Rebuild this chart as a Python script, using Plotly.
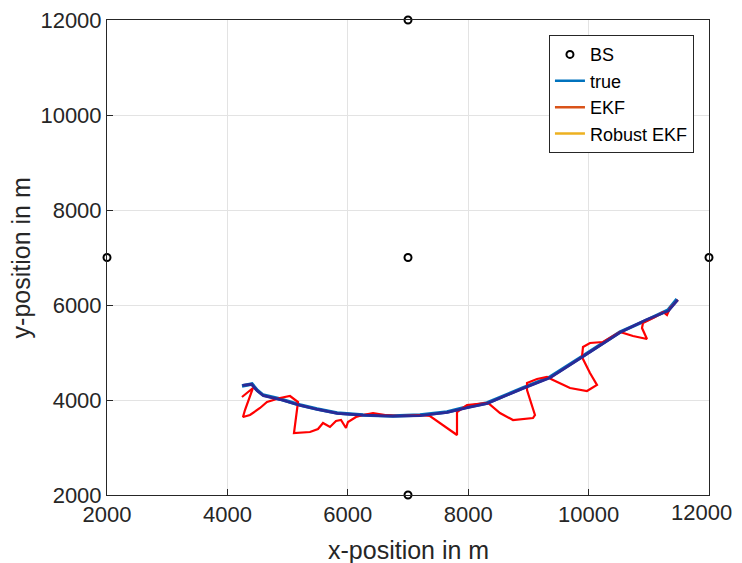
import plotly.graph_objects as go

# Base stations
bs_x = [7000, 2000, 7000, 12000, 7000]
bs_y = [12000, 7000, 7000, 7000, 2000]

# True trajectory
true_x = [4242, 4409, 4492, 4591, 4874, 5206, 5488, 5821, 6253, 6751, 7199, 7648, 7980,
          8312, 8910, 9359, 9907, 10522, 10970, 11319, 11468]
true_y = [4295, 4337, 4210, 4105, 4021, 3895, 3811, 3726, 3684, 3663, 3684, 3747, 3853,
          3937, 4253, 4484, 4926, 5432, 5684, 5895, 6126]

# EKF estimate
ekf_x = [4242, 4425, 4292, 4259, 4375, 4542, 4658, 4874, 5040, 5173, 5106, 5372, 5505,
         5588, 5704, 5804, 5887, 5970, 6003, 6136, 6253, 6419, 6618, 6867, 7199, 7365,
         7814, 7814, 7980, 8246, 8329, 8528, 8744, 9076, 9109, 8977, 8977, 9143, 9309,
         9409, 9691, 9973, 10139, 10023, 9890, 9907, 10023, 10239, 10521, 10737, 10970,
         10887, 10903, 11103, 11236, 11302, 11352, 11485]
ekf_y = [4063, 4253, 3789, 3642, 3684, 3832, 3958, 4042, 4084, 3958, 3305, 3326, 3389,
         3516, 3432, 3558, 3579, 3411, 3537, 3642, 3684, 3726, 3684, 3663, 3684, 3663,
         3263, 3747, 3895, 3937, 3937, 3726, 3579, 3621, 3684, 4211, 4358, 4442, 4484,
         4421, 4253, 4189, 4316, 4568, 4905, 5116, 5200, 5221, 5432, 5347, 5284,
         5516, 5621, 5747, 5853, 5789, 5937, 6105]

# Robust EKF estimate
rob_x = [4250, 4400, 4500, 4600, 4880, 5200, 5500, 5830, 6250, 6750, 7200, 7650, 7990,
         8320, 8900, 9360, 9900, 10520, 10960, 11330, 11480]
rob_y = [4310, 4330, 4190, 4090, 4010, 3890, 3800, 3720, 3680, 3660, 3670, 3740, 3840,
         3930, 4240, 4470, 4910, 5420, 5690, 5880, 6110]

xticks = [2000, 4000, 6000, 8000, 10000, 12000]
yticks = [2000, 4000, 6000, 8000, 10000, 12000]
xtick_text = [str(v) for v in xticks]
ytick_text = [str(v) for v in yticks]
x_title = "x-position in m"
y_title = "y-position in m"

FONT = "Liberation Sans, Arial, sans-serif"
TXT = "#262626"

fig = go.Figure()

fig.add_trace(go.Scatter(x=true_x, y=true_y, mode="lines", showlegend=False,
                         line=dict(color="#0072BD", width=3.5)))
fig.add_trace(go.Scatter(x=ekf_x, y=ekf_y, mode="lines", showlegend=False,
                         line=dict(color="#FF0000", width=2.2)))
fig.add_trace(go.Scatter(x=rob_x, y=rob_y, mode="lines", showlegend=False,
                         line=dict(color="#2A2A96", width=2.8)))
fig.add_trace(go.Scatter(x=bs_x, y=bs_y, mode="markers", name="BS", cliponaxis=False,
                         marker=dict(symbol="circle-open", size=7, color="black",
                                     line=dict(width=2, color="black"))))
# legend entries
fig.add_trace(go.Scatter(x=[None], y=[None], mode="lines", name="true",
                         line=dict(color="#0072BD", width=2.5)))
fig.add_trace(go.Scatter(x=[None], y=[None], mode="lines", name="EKF",
                         line=dict(color="#D95319", width=2.5)))
fig.add_trace(go.Scatter(x=[None], y=[None], mode="lines", name="Robust EKF",
                         line=dict(color="#EDB120", width=2.5)))

axis_common = dict(
    showline=True, mirror=True, linecolor=TXT, linewidth=1,
    ticks="inside", ticklen=6, tickcolor=TXT,
    showgrid=True, gridcolor="#E3E3E3", gridwidth=1, zeroline=False,
    automargin=False, ticklabeloverflow="allow",
    tickfont=dict(size=22, color=TXT, family=FONT),
)

# last x tick label drawn as annotation so it stays inside the page
fig.update_xaxes(range=[2000, 12000], tickvals=xticks,
                 ticktext=xtick_text[:-1] + [""], **axis_common)
fig.update_yaxes(range=[2000, 12000], tickvals=yticks, ticktext=ytick_text, **axis_common)

fig.add_annotation(x=xticks[-1], xref="x", y=0, yref="paper", text=xtick_text[-1],
                   showarrow=False, xanchor="right", yanchor="top", xshift=25, yshift=-3,
                   font=dict(size=22, color=TXT, family=FONT))
fig.add_annotation(x=0.5, xref="paper", y=-0.116, yref="paper", text=x_title,
                   showarrow=False, xanchor="center", yanchor="middle",
                   font=dict(size=25, color=TXT, family=FONT))
fig.add_annotation(x=-0.143, xref="paper", y=0.5, yref="paper", text=y_title,
                   showarrow=False, xanchor="center", yanchor="middle", textangle=-90,
                   font=dict(size=25, color=TXT, family=FONT))

fig.update_layout(
    width=742, height=563,
    margin=dict(l=99, r=41, t=12, b=76),
    paper_bgcolor="white", plot_bgcolor="white",
    font=dict(family=FONT, color=TXT),
    legend=dict(x=0.975, y=0.968, xanchor="right", yanchor="top",
                bgcolor="white", bordercolor=TXT, borderwidth=1,
                font=dict(size=18, color="black", family=FONT)),
)

fig.write_html("out.html")
